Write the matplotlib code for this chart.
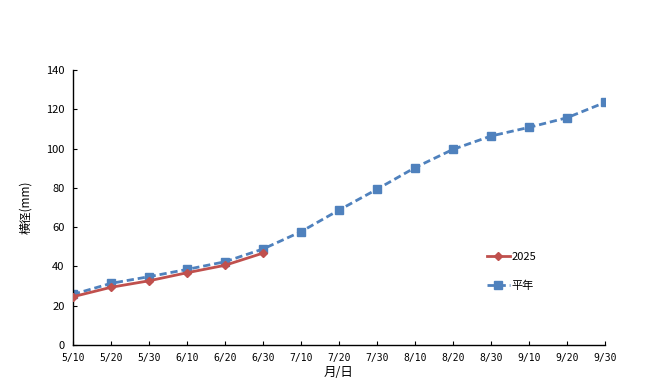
import matplotlib
matplotlib.use("Agg")
import matplotlib.pyplot as plt

plt.rcParams['font.family'] = ['Noto Sans CJK JP', 'DejaVu Sans']

dates = ['5/10', '5/20', '5/30', '6/10', '6/20', '6/30', '7/10', '7/20',
         '7/30', '8/10', '8/20', '8/30', '9/10', '9/20', '9/30']
y2025 = [24.6, 29.4, 32.7, 36.8, 40.6, 46.8]
normal = [25.8, 31.4, 34.8, 38.5, 42.4, 48.9, 57.7, 68.7, 79.3, 90.3,
          99.6, 106.4, 110.8, 115.7, 123.5]

def main():
    fig = plt.figure(figsize=(6.46, 3.89), dpi=100)
    ax = fig.add_axes([0.113, 0.113, 0.8235, 0.707])

    x = list(range(len(dates)))
    ax.plot(x[:len(y2025)], y2025, color='#C0504D', lw=2, marker='D',
            markersize=4.5, label='2025', zorder=3)
    ax.plot(x, normal, color='#4F81BD', lw=2, ls=(0, (2.6, 1.4)), marker='s',
            markersize=6, label='平年', zorder=2)

    ax.set_xlim(0, len(dates) - 1)
    ax.set_ylim(0, 140)
    ax.set_yticks(range(0, 141, 20))
    ax.set_xticks(x)
    ax.set_xticklabels(dates, fontsize=7, family='DejaVu Sans Mono')
    ax.tick_params(axis='y', direction='in', length=3, labelsize=8, pad=6)
    ax.tick_params(axis='x', direction='in', length=3, pad=6)
    for side in ['top', 'right']:
        ax.spines[side].set_visible(False)
    ax.spines['left'].set_linewidth(1)
    ax.spines['bottom'].set_linewidth(1)

    ax.set_ylabel('横径(mm)', fontsize=8.5, labelpad=10)
    ax.set_xlabel('月/日', fontsize=9, labelpad=2)

    ax.legend(loc='upper left', bbox_to_anchor=(0.76, 0.375), frameon=False,
              fontsize=8, labelspacing=1.7, handlelength=2.0,
              handletextpad=0.2)

    fig.savefig('out.png', dpi=100)

if __name__ == "__main__":
    main()
